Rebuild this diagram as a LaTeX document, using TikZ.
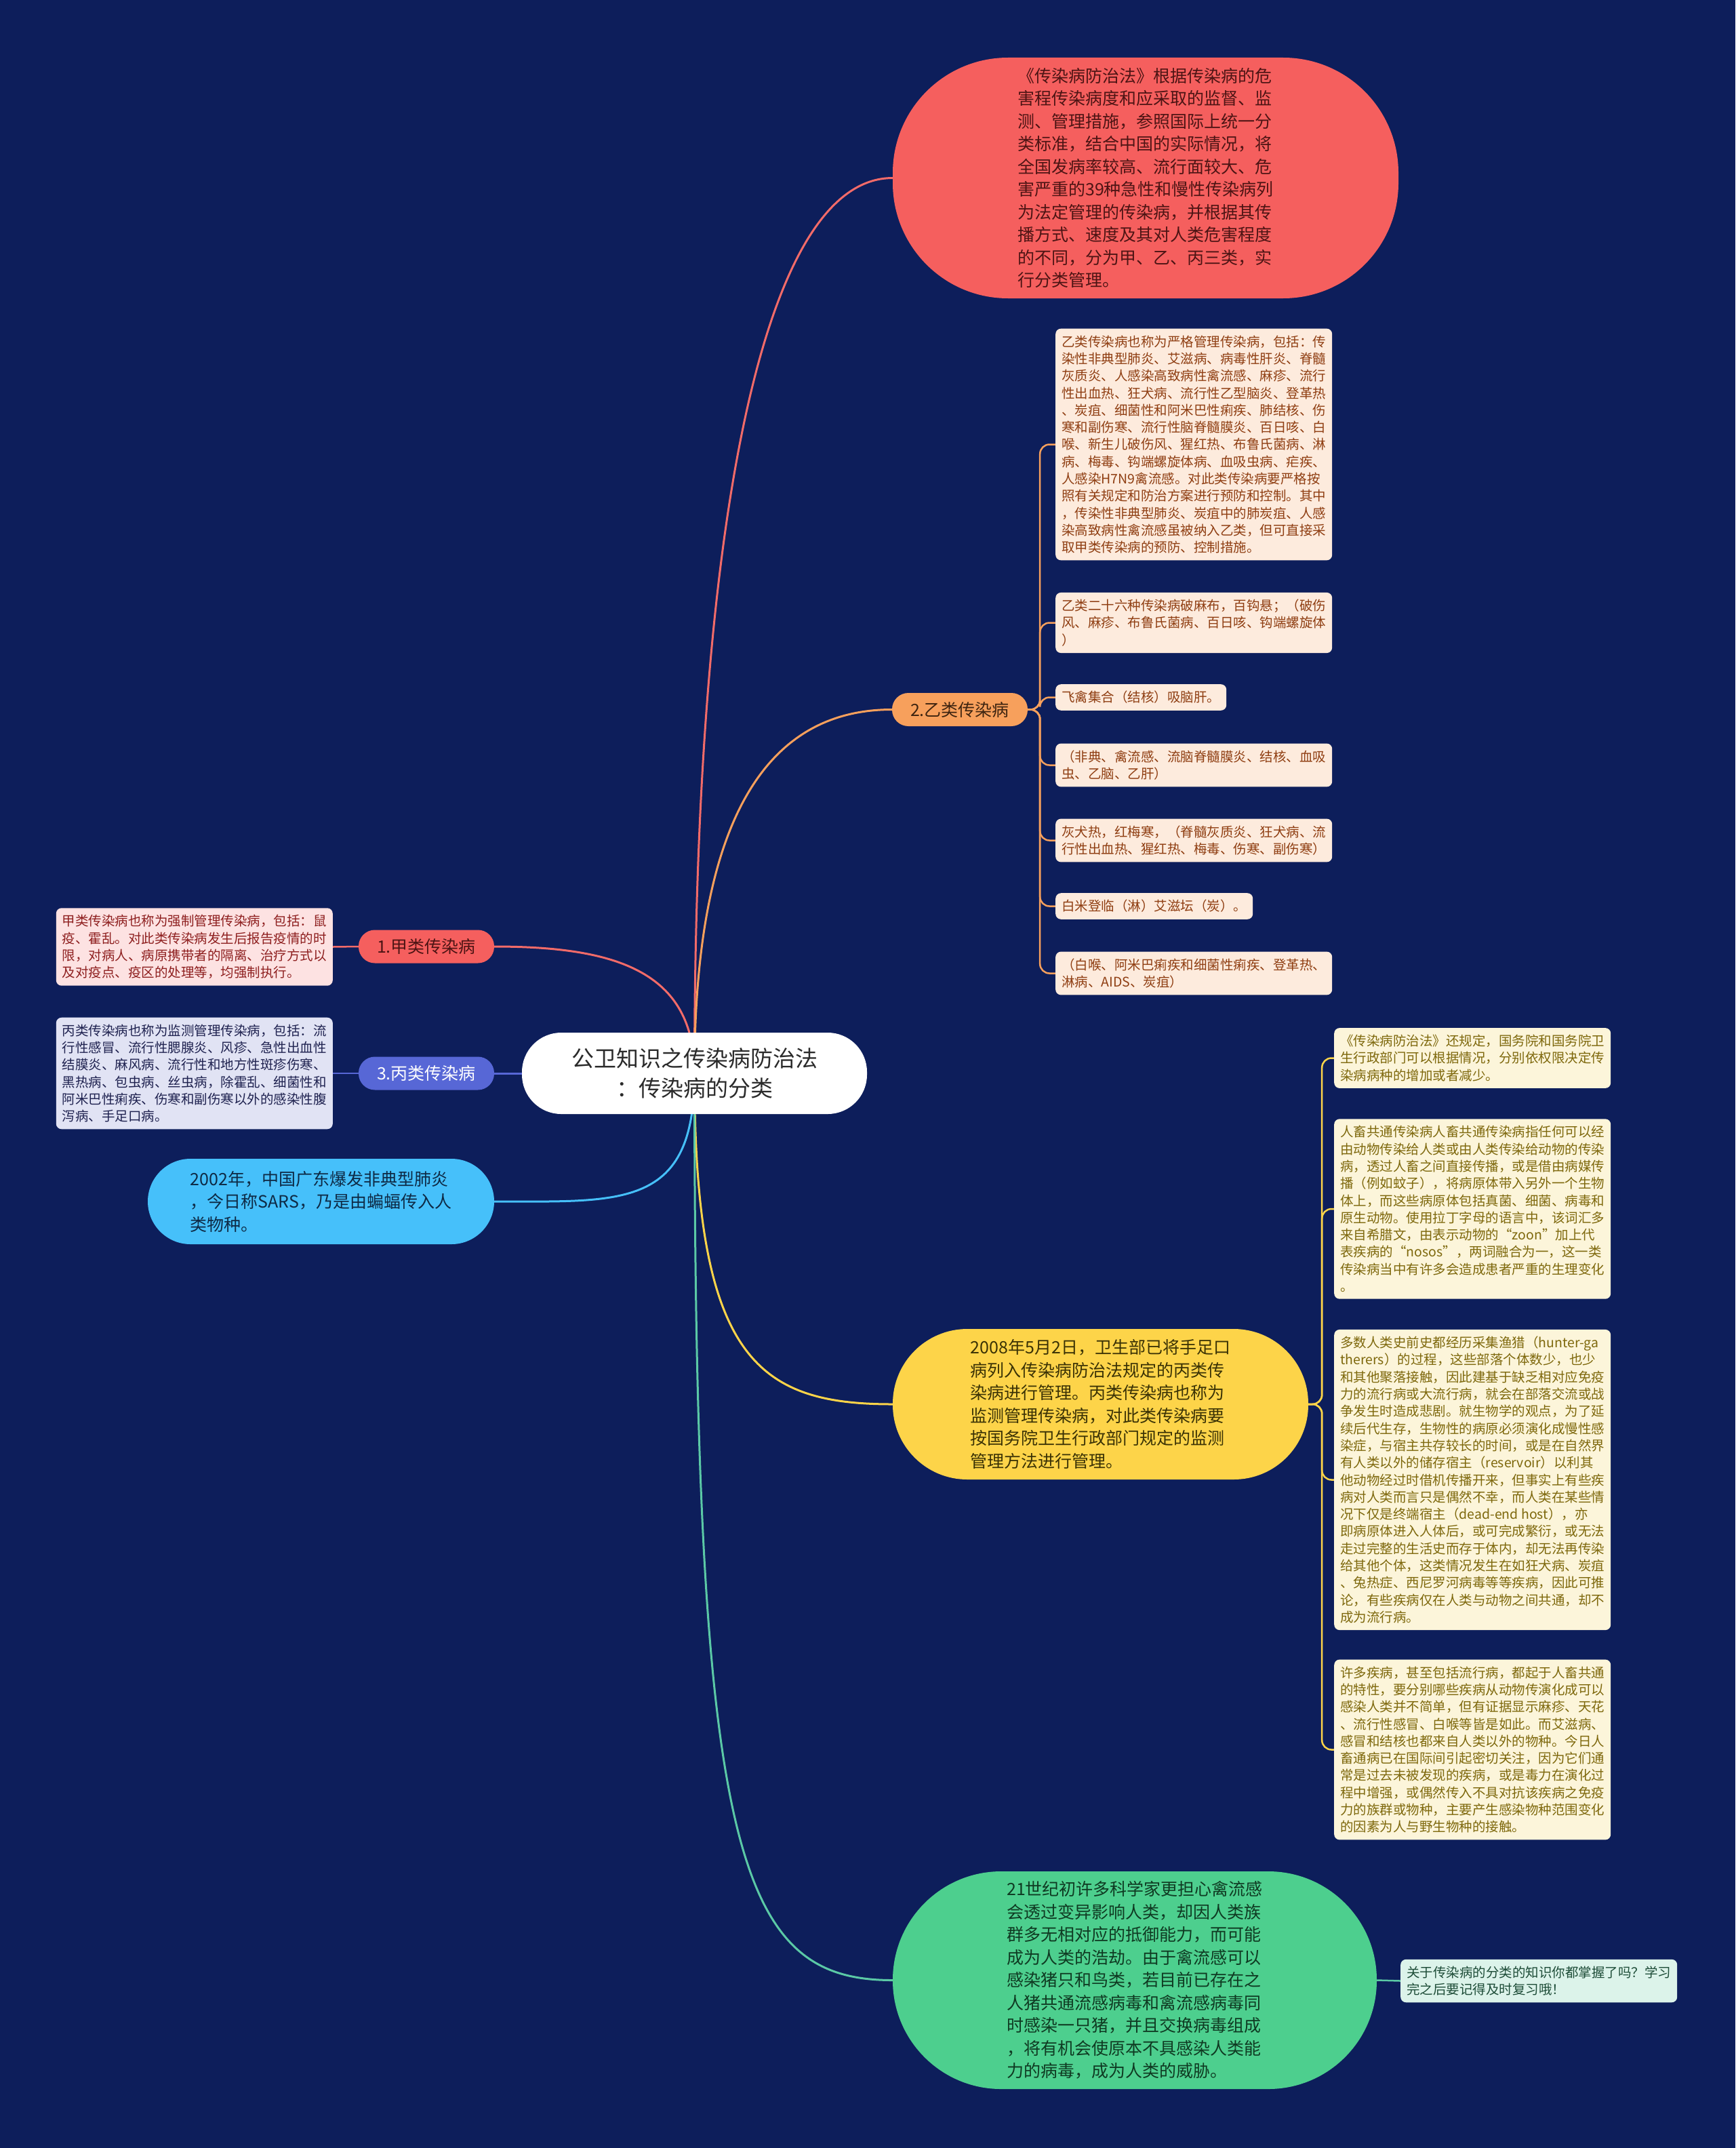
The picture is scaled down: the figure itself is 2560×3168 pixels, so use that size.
\documentclass[tikz,border=0pt]{standalone}
\usepackage{fontspec}
\setmainfont{Noto Sans CJK SC}
\usepackage{tikz}
\definecolor{mapbg}{HTML}{0D1E5B}
\definecolor{rootink}{HTML}{2B2B2B}
\definecolor{mapred}{HTML}{F55F5E}
\definecolor{mapredink}{HTML}{4D1414}
\definecolor{mapredline}{HTML}{F26B69}
\definecolor{mapredpale}{HTML}{FDE2E2}
\definecolor{mapredtext}{HTML}{8E1F1F}
\definecolor{maporange}{HTML}{F7A05C}
\definecolor{maporangeink}{HTML}{3E2410}
\definecolor{maporangepale}{HTML}{FDEBDD}
\definecolor{maporangetext}{HTML}{8F3E12}
\definecolor{mapblue}{HTML}{5767D6}
\definecolor{mapbluepale}{HTML}{E1E3F4}
\definecolor{mapbluetext}{HTML}{1F2250}
\definecolor{mapsky}{HTML}{46C0FA}
\definecolor{mapskyink}{HTML}{0E2A45}
\definecolor{mapyellow}{HTML}{FDD449}
\definecolor{mapyellowink}{HTML}{3A3205}
\definecolor{mapyellowpale}{HTML}{FCF5DA}
\definecolor{mapyellowtext}{HTML}{7E680C}
\definecolor{mapgreen}{HTML}{4DCF8E}
\definecolor{mapgreenink}{HTML}{0F3A22}
\definecolor{mapgreenline}{HTML}{5BC9A6}
\definecolor{mapgreenpale}{HTML}{DCF3EA}
\definecolor{mapgreentext}{HTML}{1E4D38}
\pgfdeclarelayer{backdrop}
\pgfdeclarelayer{links}
\pgfsetlayers{backdrop,links,main}

\begin{document}
\begin{tikzpicture}[
  x=1pt, y=-1pt,
  rootbox/.style={fill=white, text=rootink, rounded corners=58pt, align=center, inner sep=0pt,
                  minimum width=509pt, minimum height=120pt, font=\fontsize{33}{44}\selectfont},
  bigbox/.style={rounded corners=#1, align=left, inner sep=0pt, font=\fontsize{25}{33.5}\selectfont},
  tagbox/.style={rounded corners=24pt, inner sep=0pt, minimum width=200pt, minimum height=49pt,
                 font=\fontsize{25}{30}\selectfont},
  notebox/.style={rounded corners=8pt, align=left, anchor=west, inner xsep=9pt, inner ysep=10pt,
                  minimum width=408pt, font=\fontsize{19.5}{25.3}\selectfont},
  yinote/.style={notebox, fill=maporangepale, text=maporangetext},
  hfnote/.style={notebox, fill=mapyellowpale, text=mapyellowtext},
  link/.style={line width=3pt},
  sublink/.style={line width=2.5pt, rounded corners=14pt}
]
\begin{pgfonlayer}{backdrop}
  \fill[mapbg] (0,0) rectangle (2560,3168);
\end{pgfonlayer}
\useasboundingbox (0,0) rectangle (2560,3168);
% ----- centre -----
\node[rootbox] (root) at (1024.5,1583) {公卫知识之传染病防治法\\：传染病的分类};
% ----- right column -----
\node[bigbox=170pt, fill=mapred, text=mapredink, minimum width=746pt, minimum height=355pt] (lawbox) at (1690,262.5)
  {《传染病防治法》根据传染病的危\\害程传染病度和应采取的监督、监\\测、管理措施，参照国际上统一分\\类标准，结合中国的实际情况，将\\全国发病率较高、流行面较大、危\\害严重的39种急性和慢性传染病列\\为法定管理的传染病，并根据其传\\播方式、速度及其对人类危害程度\\的不同，分为甲、乙、丙三类，实\\行分类管理。};
\node[tagbox, fill=maporange, text=maporangeink] (yi) at (1416,1046.5) {2.乙类传染病};
\node[yinote] (yia) at (1557,655.5)
  {乙类传染病也称为严格管理传染病，包括：传\\染性非典型肺炎、艾滋病、病毒性肝炎、脊髓\\灰质炎、人感染高致病性禽流感、麻疹、流行\\性出血热、狂犬病、流行性乙型脑炎、登革热\\、炭疽、细菌性和阿米巴性痢疾、肺结核、伤\\寒和副伤寒、流行性脑脊髓膜炎、百日咳、白\\喉、新生儿破伤风、猩红热、布鲁氏菌病、淋\\病、梅毒、钩端螺旋体病、血吸虫病、疟疾、\\人感染H7N9禽流感。对此类传染病要严格按\\照有关规定和防治方案进行预防和控制。其中\\，传染性非典型肺炎、炭疽中的肺炭疽、人感\\染高致病性禽流感虽被纳入乙类，但可直接采\\取甲类传染病的预防、控制措施。};
\node[yinote] (yib) at (1557,918.5) {乙类二十六种传染病破麻布，百钩悬；（破伤\\风、麻疹、布鲁氏菌病、百日咳、钩端螺旋体\\）};
\node[yinote, minimum width=0pt] (yic) at (1557,1028.5) {飞禽集合（结核）吸脑肝。};
\node[yinote] (yid) at (1557,1128.5) {（非典、禽流感、流脑脊髓膜炎、结核、血吸\\虫、乙脑、乙肝）};
\node[yinote] (yie) at (1557,1239.5) {灰犬热，红梅寒，（脊髓灰质炎、狂犬病、流\\行性出血热、猩红热、梅毒、伤寒、副伤寒）};
\node[yinote, minimum width=0pt] (yif) at (1557,1336.5) {白米登临（淋）艾滋坛（炭）。};
\node[yinote] (yig) at (1557,1435.5) {（白喉、阿米巴痢疾和细菌性痢疾、登革热、\\淋病、AIDS、炭疽）};
\node[bigbox=110pt, fill=mapyellow, text=mapyellowink, minimum width=613pt, minimum height=222pt] (hfmd) at (1623.5,2071)
  {2008年5月2日，卫生部已将手足口\\病列入传染病防治法规定的丙类传\\染病进行管理。丙类传染病也称为\\监测管理传染病，对此类传染病要\\按国务院卫生行政部门规定的监测\\管理方法进行管理。};
\node[hfnote] (hfa) at (1968,1560.5)
  {《传染病防治法》还规定，国务院和国务院卫\\生行政部门可以根据情况，分别依权限决定传\\染病病种的增加或者减少。};
\node[hfnote] (hfb) at (1968,1783)
  {人畜共通传染病人畜共通传染病指任何可以经\\由动物传染给人类或由人类传染给动物的传染\\病，透过人畜之间直接传播，或是借由病媒传\\播（例如蚊子），将病原体带入另外一个生物\\体上，而这些病原体包括真菌、细菌、病毒和\\原生动物。使用拉丁字母的语言中，该词汇多\\来自希腊文，由表示动物的“zoon”加上代\\表疾病的“nosos”，两词融合为一，这一类\\传染病当中有许多会造成患者严重的生理变化\\。};
\node[hfnote] (hfc) at (1968,2182.5)
  {多数人类史前史都经历采集渔猎（hunter-ga\\therers）的过程，这些部落个体数少，也少\\和其他聚落接触，因此建基于缺乏相对应免疫\\力的流行病或大流行病，就会在部落交流或战\\争发生时造成悲剧。就生物学的观点，为了延\\续后代生存，生物性的病原必须演化成慢性感\\染症，与宿主共存较长的时间，或是在自然界\\有人类以外的储存宿主（reservoir）以利其\\他动物经过时借机传播开来，但事实上有些疾\\病对人类而言只是偶然不幸，而人类在某些情\\况下仅是终端宿主（dead-end host），亦\\即病原体进入人体后，或可完成繁衍，或无法\\走过完整的生活史而存于体内，却无法再传染\\给其他个体，这类情况发生在如狂犬病、炭疽\\、兔热症、西尼罗河病毒等等疾病，因此可推\\论，有些疾病仅在人类与动物之间共通，却不\\成为流行病。};
\node[hfnote] (hfd) at (1968,2580.5)
  {许多疾病，甚至包括流行病，都起于人畜共通\\的特性，要分别哪些疾病从动物传演化成可以\\感染人类并不简单，但有证据显示麻疹、天花\\、流行性感冒、白喉等皆是如此。而艾滋病、\\感冒和结核也都来自人类以外的物种。今日人\\畜通病已在国际间引起密切关注，因为它们通\\常是过去未被发现的疾病，或是毒力在演化过\\程中增强，或偶然传入不具对抗该疾病之免疫\\力的族群或物种，主要产生感染物种范围变化\\的因素为人与野生物种的接触。};
\node[bigbox=160pt, fill=mapgreen, text=mapgreenink, minimum width=714pt, minimum height=321pt] (flu) at (1674,2920.5)
  {21世纪初许多科学家更担心禽流感\\会透过变异影响人类，却因人类族\\群多无相对应的抵御能力，而可能\\成为人类的浩劫。由于禽流感可以\\感染猪只和鸟类，若目前已存在之\\人猪共通流感病毒和禽流感病毒同\\时感染一只猪，并且交换病毒组成\\，将有机会使原本不具感染人类能\\力的病毒，成为人类的威胁。};
\node[notebox, fill=mapgreenpale, text=mapgreentext] (review) at (2066,2921.5)
  {关于传染病的分类的知识你都掌握了吗？学习\\完之后要记得及时复习哦！};
% ----- left column -----
\node[tagbox, fill=mapred, text=mapredink] (jia) at (629,1396) {1.甲类传染病};
\node[notebox, anchor=east, fill=mapredpale, text=mapredtext] (jianote) at (491,1396.5)
  {甲类传染病也称为强制管理传染病，包括：鼠\\疫、霍乱。对此类传染病发生后报告疫情的时\\限，对病人、病原携带者的隔离、治疗方式以\\及对疫点、疫区的处理等，均强制执行。};
\node[tagbox, fill=mapblue, text=white] (bing) at (629,1583) {3.丙类传染病};
\node[notebox, anchor=east, fill=mapbluepale, text=mapbluetext] (bingnote) at (491,1583)
  {丙类传染病也称为监测管理传染病，包括：流\\行性感冒、流行性腮腺炎、风疹、急性出血性\\结膜炎、麻风病、流行性和地方性斑疹伤寒、\\黑热病、包虫病、丝虫病，除霍乱、细菌性和\\阿米巴性痢疾、伤寒和副伤寒以外的感染性腹\\泻病、手足口病。};
\node[bigbox=63pt, fill=mapsky, text=mapskyink, minimum width=511pt, minimum height=126pt] (sars) at (473.5,1772)
  {2002年，中国广东爆发非典型肺炎\\，今日称SARS，乃是由蝙蝠传入人\\类物种。};
% ----- connectors -----
\begin{pgfonlayer}{links}
  \draw[link, mapredline] (root.center) .. controls +(0,-820) and +(-190,0) .. (lawbox.west);
  \draw[link, maporange] (root.center) .. controls +(0,-400) and +(-170,0) .. (yi.west);
  \draw[link, mapredline] (root.center) .. controls +(0,-150) and +(180,0) .. (jia.east);
  \draw[link, mapblue] (root.center) -- (bing.east);
  \draw[link, mapsky] (root.center) .. controls +(0,200) and +(190,0) .. (sars.east);
  \draw[link, mapyellow] (root.center) .. controls +(0,420) and +(-200,0) .. (hfmd.west);
  \draw[link, mapgreenline] (root.center) .. controls +(0,1150) and +(-230,0) .. (flu.west);
  \foreach \n in {yia,yib,yic,yid,yie,yif,yig}{\draw[sublink, maporange] (yi.east) -- ++(18,0) |- (\n.west);}
  \foreach \n in {hfa,hfb,hfc,hfd}{\draw[sublink, mapyellow] (hfmd.east) -- ++(20,0) |- (\n.west);}
  \draw[sublink, mapredline] (jia.west) -- (jianote.east);
  \draw[sublink, mapblue] (bing.west) -- (bingnote.east);
  \draw[sublink, mapgreenline] (flu.east) -- (review.west);
\end{pgfonlayer}
\end{tikzpicture}
\end{document}
